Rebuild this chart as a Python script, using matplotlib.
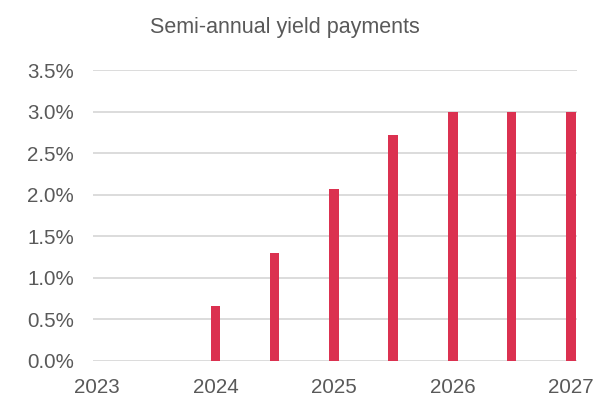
"""Semi-annual yield payments bar chart."""

import matplotlib

matplotlib.use("Agg")
import matplotlib.dates as mdates
import matplotlib.pyplot as plt
import pandas as pd
from matplotlib.ticker import FuncFormatter

payment_dates = ["2024-01-01", "2024-07-01", "2025-01-01", "2025-07-01",
                 "2026-01-01", "2026-07-01", "2027-01-01"]
yield_pct = [0.66, 1.30, 2.07, 2.72, 3.00, 3.00, 3.00]
year_ticks = ["2023-01-01", "2024-01-01", "2025-01-01", "2026-01-01", "2027-01-01"]
y_ticks = [0.0, 0.5, 1.0, 1.5, 2.0, 2.5, 3.0, 3.5]

BAR_RED = "#DB3150"
GRID = "#D9D9D9"
TEXT = "#595959"

plt.rcParams["font.family"] = ["Liberation Sans", "DejaVu Sans"]

dates = pd.to_datetime(payment_dates)
ticks = pd.to_datetime(year_ticks)

fig = plt.figure(figsize=(5.95, 3.94), dpi=100)
ax = fig.add_axes([93 / 595, 1 - 361 / 394, 484 / 595, 291 / 394])

ax.bar(dates, yield_pct, width=30, color=BAR_RED, zorder=3)

ax.set_xlim(ticks[0] - pd.Timedelta(days=12), ticks[-1] + pd.Timedelta(days=18))
ax.set_ylim(0, 3.5)
ax.set_xticks(ticks)
ax.xaxis.set_major_formatter(mdates.DateFormatter("%Y"))
ax.set_yticks(y_ticks)
ax.yaxis.set_major_formatter(FuncFormatter(lambda v, _: f"{v:.1f}%"))
ax.grid(axis="y", color=GRID, linewidth=1.3, zorder=0)
ax.tick_params(length=0, labelsize=14.8, colors=TEXT)
ax.tick_params(axis="y", pad=13.7)
ax.tick_params(axis="x", pad=12.5)
for spine in ax.spines.values():
    spine.set_visible(False)

fig.text(285 / 595, 1 - 27 / 394, "Semi-annual yield payments",
         ha="center", va="center", fontsize=15.5, color=TEXT)

fig.savefig("out.png", dpi=100)
